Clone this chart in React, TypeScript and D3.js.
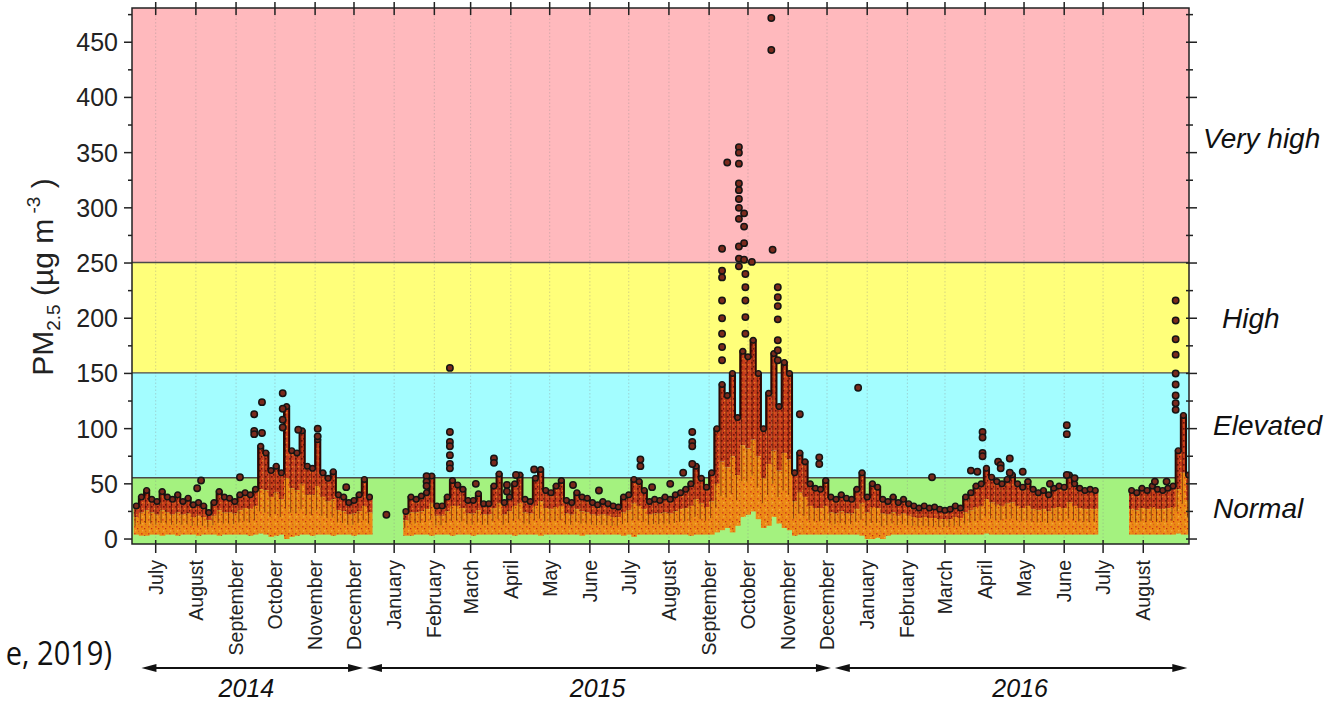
import * as d3 from "d3";

// PM2.5 time series in 4-day columns starting 2014-06-14
const COL_START = "2014-06-14";
const COL_DAYS = 4;

// upper envelope of the dense points (dark edge)
const peak: (number | null)[] = [
  30, 38, 44, 36, 34, 43, 38, 36, 40, 34,
  37, 31, 33, 30, 24, 33, 43, 38, 37, 34,
  40, 42, 40, 45, 84, 78, 62, 66, 60, 120,
  80, 78, 98, 66, 64, 90, 60, 55, 61, 40,
  38, 33, 35, 40, 54, 38, null, null, null, null,
  null, null, 25, 38, 36, 39, 42, 57, 30, 30,
  38, 53, 49, 45, 35, 35, 41, 32, 32, 48,
  59, 33, 38, 50, 58, 36, 34, 55, 63, 44,
  42, 48, 53, 35, 33, 42, 38, 37, 33, 31,
  34, 32, 30, 29, 38, 40, 54, 52, 44, 34,
  36, 35, 38, 36, 40, 42, 45, 50, 66, 55,
  47, 60, 100, 140, 130, 150, 110, 170, 165, 180,
  150, 100, 132, 168, 120, 160, 150, 60, 78, 70,
  50, 46, 45, 53, 38, 36, 40, 37, 36, 45,
  60, 38, 50, 47, 36, 34, 38, 33, 36, 32,
  30, 28, 30, 28, 29, 27, 26, 27, 30, 28,
  38, 42, 48, 50, 64, 56, 52, 50, 54, 58,
  50, 47, 52, 45, 42, 44, 40, 46, 48, 47,
  58, 50, 46, 44, 45, 44, null, null, null, null,
  null, null, 44, 42, 46, 44, 48, 45, 44, 46,
  48, 80, 112, 58,
];

// top of the orange (bulk) part
const mid: (number | null)[] = [
  20, 24, 26, 24, 22, 26, 24, 22, 24, 22,
  23, 20, 21, 20, 17, 21, 26, 24, 24, 23,
  26, 28, 27, 30, 45, 44, 38, 42, 36, 55,
  46, 44, 50, 40, 40, 48, 38, 34, 36, 26,
  25, 22, 23, 25, 30, 24, null, null, null, null,
  null, null, 17, 24, 24, 25, 27, 32, 21, 21,
  25, 30, 30, 28, 23, 23, 26, 22, 22, 28,
  32, 22, 25, 30, 32, 24, 23, 30, 34, 28,
  27, 29, 30, 23, 22, 27, 25, 24, 22, 21,
  22, 21, 20, 20, 24, 26, 32, 30, 27, 22,
  23, 23, 24, 23, 25, 27, 28, 30, 36, 32,
  29, 34, 50, 70, 65, 75, 58, 85, 82, 90,
  75, 55, 68, 80, 62, 78, 72, 34, 42, 38,
  30, 28, 28, 30, 24, 23, 25, 23, 23, 27,
  32, 24, 29, 28, 23, 22, 24, 21, 23, 21,
  20, 19, 20, 19, 19, 18, 18, 18, 20, 19,
  24, 26, 29, 30, 36, 33, 31, 30, 32, 33,
  30, 28, 30, 27, 26, 27, 25, 28, 29, 28,
  33, 30, 28, 27, 27, 27, null, null, null, null,
  null, null, 27, 26, 28, 27, 29, 27, 27, 28,
  29, 45, 60, 35,
];

// lower edge of the points
const low: (number | null)[] = [
  4, 3, 3, 4, 4, 3, 4, 4, 3, 4,
  4, 4, 3, 4, 4, 4, 3, 4, 4, 4,
  4, 4, 3, 4, 5, 4, 2, 3, 4, 0,
  2, 3, 4, 4, 3, 4, 4, 4, 3, 4,
  4, 4, 3, 4, 4, 4, null, null, null, null,
  null, null, 3, 3, 4, 4, 4, 3, 4, 4,
  4, 3, 4, 4, 4, 3, 4, 4, 4, 4,
  4, 4, 4, 3, 4, 4, 4, 4, 3, 4,
  4, 4, 4, 4, 4, 4, 3, 4, 4, 4,
  4, 4, 4, 4, 3, 4, 2, 4, 4, 4,
  4, 4, 4, 4, 4, 4, 4, 3, 4, 4,
  4, 4, 6, 8, 10, 6, 12, 20, 22, 25,
  18, 10, 12, 20, 14, 10, 8, 3, 4, 4,
  4, 4, 4, 4, 4, 4, 4, 4, 4, 4,
  3, 0, 0, 1, 0, 3, 4, 4, 4, 4,
  4, 4, 4, 4, 4, 4, 4, 4, 4, 4,
  4, 4, 4, 4, 5, 4, 4, 4, 4, 4,
  4, 4, 4, 4, 4, 4, 4, 4, 4, 4,
  4, 4, 4, 4, 4, 4, null, null, null, null,
  null, null, 4, 4, 4, 4, 4, 4, 4, 4,
  4, 5, 4, 4,
];

// isolated high readings (black circles)
const outlierDates = [
  "2014-08-02", "2014-08-05", "2014-09-04", "2014-09-15", "2014-09-21",
  "2014-10-07", "2014-10-19", "2014-11-03", "2014-11-25", "2014-12-26",
  "2015-01-26", "2015-02-13", "2015-03-05", "2015-03-19", "2015-03-29",
  "2015-04-05", "2015-04-19", "2015-05-19", "2015-06-08", "2015-07-10",
  "2015-07-19", "2015-08-02", "2015-08-12", "2015-08-19", "2015-09-11",
  "2015-09-15", "2015-09-24", "2015-09-28", "2015-09-29", "2015-10-04",
  "2015-10-19", "2015-10-20", "2015-10-24", "2015-11-10", "2015-11-25",
  "2015-12-25", "2016-02-20", "2016-03-21", "2016-03-26", "2016-03-30",
  "2016-04-11", "2016-04-13", "2016-04-20", "2016-04-30", "2016-05-21",
  "2016-06-03", "2016-06-09", "2016-08-10", "2016-08-19", "2016-08-26",
];
const outlierValues = [
  [46], [53], [56], [113, 98, 95], [124, 96],
  [132, 118, 108, 101], [99], [100, 93], [47], [22],
  [57, 52, 48], [155, 97, 88, 84, 76, 68, 64], [50], [73, 69], [49, 43],
  [58], [63], [49], [44], [72, 66],
  [47], [50], [60], [97, 88, 84, 68], [263, 243, 237, 216, 200, 186, 174, 162],
  [341], [355, 350, 340, 322, 316, 308, 300, 290, 265, 254, 247], [295, 283, 268, 253], [240, 228, 216, 201, 186], [251],
  [472, 443], [262], [228, 219, 211, 199, 180, 171, 162], [113], [74, 68],
  [137], [56], [62], [61], [97, 92, 78, 75],
  [70], [67, 64], [73, 60], [61], [50],
  [103, 95, 58], [55], [52], [52], [216, 198, 181, 167, 150, 140, 130, 123, 117],
];

// air quality bands
const bandNames = ["Normal", "Elevated", "High", "Very high"];
const bandEdges = [55.5, 150.5, 250.5];
const bandColors = ["#a4f27f", "#a3fdff", "#ffff7a", "#ffb9bd"];

const yTicks = [0, 50, 100, 150, 200, 250, 300, 350, 400, 450];

const years = ["2014", "2015", "2016"];
const yearStart = ["2014-06-20", "2014-12-11", "2015-12-07"];
const yearEnd = ["2014-12-08", "2015-12-04", "2016-09-04"];
const yearMid = ["2014-09-09", "2015-06-07", "2016-04-28"];

const parse = d3.utcParse("%Y-%m-%d");
const FONT = "'Liberation Sans', Arial, sans-serif";

export default function App() {
  const left = 132, right = 1189, top = 8, bottom = 544;
  const x = d3
    .scaleUtc()
    .domain([new Date(Date.UTC(2014, 5, 12, 17)), new Date(Date.UTC(2016, 8, 5, 7))])
    .range([left, right]);
  const y = d3.scaleLinear().domain([-4.5, 481]).range([bottom, top]);

  const months = d3.utcMonth.range(new Date(Date.UTC(2014, 6, 1)), new Date(Date.UTC(2016, 8, 1)));
  const fmt = d3.utcFormat("%B");

  const start = parse(COL_START)!;
  const cols = peak.map((p, i) => ({
    x0: x(d3.utcDay.offset(start, i * COL_DAYS)),
    x1: x(d3.utcDay.offset(start, (i + 1) * COL_DAYS)),
    peak: p,
    mid: mid[i],
    low: low[i],
  }));

  // dark upper edge as a step path
  let edge = "";
  let prev: number | null = null;
  cols.forEach((c) => {
    if (c.peak == null) {
      prev = null;
      return;
    }
    edge += prev == null ? `M${c.x0},${y(c.peak)}` : `V${y(c.peak)}`;
    edge += `H${c.x1}`;
    prev = c.peak;
  });

  const bandLo = [-4.5, ...bandEdges];
  const bandHi = [...bandEdges, 481];
  const bandLabelX = [1213, 1213, 1222, 1203];
  const bandLabelY = [518, 435, 328, 148];

  const minor = d3.range(0, 481, 25);

  return (
    <svg
      width={1334}
      height={701}
      style={{ position: "absolute", left: 0, top: 0, background: "#fff" }}
      fontFamily={FONT}
    >
      <defs>
        <pattern id="speckO" width={7} height={7} patternUnits="userSpaceOnUse">
          <rect width={7} height={7} fill="#ec8b15" />
          <rect x={1} y={1} width={1.6} height={1.6} fill="#d8461a" />
          <rect x={4} y={3} width={1.3} height={1.3} fill="#c42a12" />
          <rect x={2} y={5} width={1.4} height={1.4} fill="#f4a63e" />
          <rect x={5.2} y={5.8} width={1} height={1} fill="#d8461a" />
          <rect x={5.5} y={0.5} width={1} height={1.2} fill="#e06a18" />
        </pattern>
        <pattern id="speckR" width={6} height={6} patternUnits="userSpaceOnUse">
          <rect width={6} height={6} fill="#c73c1b" />
          <rect x={1} y={2} width={1.6} height={1.6} fill="#6e150a" />
          <rect x={4} y={4} width={1.3} height={1.3} fill="#e5821f" />
          <rect x={3} y={0.3} width={1.1} height={1.1} fill="#3c0a04" />
          <rect x={0.3} y={4.6} width={1} height={1} fill="#e5821f" />
        </pattern>
        <clipPath id="plot">
          <rect x={left} y={top} width={right - left} height={bottom - top} />
        </clipPath>
      </defs>

      {/* bands */}
      {bandNames.map((b, i) => (
        <rect
          key={b}
          x={left}
          y={y(bandHi[i])}
          width={right - left}
          height={y(bandLo[i]) - y(bandHi[i])}
          fill={bandColors[i]}
        />
      ))}

      {/* dotted month grid */}
      {months.map((m) => (
        <line
          key={+m}
          x1={x(m)}
          x2={x(m)}
          y1={top}
          y2={bottom}
          stroke="#8a8a8a"
          strokeOpacity={0.45}
          strokeWidth={0.8}
          strokeDasharray="1.5,2"
        />
      ))}

      {bandEdges.map((e) => (
        <line key={e} x1={left} x2={right} y1={y(e)} y2={y(e)} stroke="#4a4a4a" strokeWidth={1.3} />
      ))}

      <g clipPath="url(#plot)">
        {/* bulk */}
        {cols.map((c, i) =>
          c.peak == null ? null : (
            <g key={i}>
              <rect
                x={c.x0}
                y={y(c.peak)}
                width={c.x1 - c.x0 + 0.4}
                height={y(c.mid!) - y(c.peak)}
                fill="url(#speckR)"
              />
              <rect
                x={c.x0}
                y={y(c.mid!)}
                width={c.x1 - c.x0 + 0.4}
                height={y(c.low!) - y(c.mid!)}
                fill="url(#speckO)"
              />
              <line
                x1={c.x0 + 1.5}
                x2={c.x0 + 1.5}
                y1={y(c.peak)}
                y2={y((c.mid! + c.low!) / 2)}
                stroke="#3a0c06"
                strokeOpacity={0.55}
                strokeWidth={1}
              />
            </g>
          )
        )}
        <path d={edge} fill="none" stroke="#2a0804" strokeWidth={2} />
        {cols.map((c, i) =>
          c.peak == null ? null : (
            <circle
              key={"c" + i}
              cx={(c.x0 + c.x1) / 2}
              cy={y(c.peak)}
              r={2.8}
              fill="#7b2a1c"
              stroke="#151515"
              strokeWidth={1.4}
            />
          )
        )}
        {outlierDates.map((d, i) =>
          outlierValues[i].map((v, j) => (
            <circle
              key={d + j}
              cx={x(parse(d)!)}
              cy={y(v)}
              r={3.2}
              fill="#7b2a1c"
              stroke="#151515"
              strokeWidth={1.5}
            />
          ))
        )}
      </g>

      {/* frame */}
      <rect x={left} y={top} width={right - left} height={bottom - top} fill="none" stroke="#222" strokeWidth={1.5} />

      {/* month ticks top and bottom */}
      {months.map((m) => (
        <g key={"t" + +m}>
          <line x1={x(m)} x2={x(m)} y1={2} y2={15} stroke="#222" strokeWidth={1.5} />
          <line x1={x(m)} x2={x(m)} y1={540} y2={553} stroke="#222" strokeWidth={1.5} />
          <text
            transform={`translate(${x(m)},560) rotate(-90)`}
            textAnchor="end"
            dy="0.36em"
            fontSize={19.5}
            fill="#222"
          >
            {fmt(m)}
          </text>
        </g>
      ))}

      {/* y ticks */}
      {minor.map((v) => {
        const major = v % 50 === 0;
        return (
          <g key={"y" + v}>
            <line x1={major ? 124 : 128} x2={left} y1={y(v)} y2={y(v)} stroke="#222" strokeWidth={1.5} />
            <line x1={1186} x2={major ? 1197 : 1193} y1={y(v)} y2={y(v)} stroke="#222" strokeWidth={1.5} />
          </g>
        );
      })}
      {yTicks.map((v) => (
        <text key={"l" + v} x={118} y={y(v)} dy="0.36em" textAnchor="end" fontSize={25} fill="#222">
          {v}
        </text>
      ))}

      {/* y title */}
      <text transform="translate(53,277) rotate(-90)" textAnchor="middle" fontSize={30} fill="#222">
        PM
        <tspan fontSize={19} dy={7}>2.5</tspan>
        <tspan dy={-7}> (µg m</tspan>
        <tspan fontSize={19} dy={-13}> -3</tspan>
        <tspan dy={13}> )</tspan>
      </text>

      {/* band names */}
      {bandNames.map((b, i) => (
        <text key={"n" + b} x={bandLabelX[i]} y={bandLabelY[i]} fontSize={28} fontStyle="italic" fill="#111">
          {b}
        </text>
      ))}

      {/* year arrows */}
      {years.map((yr, i) => {
        const xa = x(parse(yearStart[i])!);
        const xb = x(parse(yearEnd[i])!);
        const ya = 668;
        return (
          <g key={yr}>
            <line x1={xa + 6} x2={xb - 6} y1={ya} y2={ya} stroke="#111" strokeWidth={2} />
            <polygon points={`${xa},${ya} ${xa + 15},${ya - 4} ${xa + 15},${ya + 4}`} fill="#111" />
            <polygon points={`${xb},${ya} ${xb - 15},${ya - 4} ${xb - 15},${ya + 4}`} fill="#111" />
            <text x={x(parse(yearMid[i])!)} y={697} textAnchor="middle" fontSize={25} fontStyle="italic" fill="#111">
              {yr}
            </text>
          </g>
        );
      })}

      {/* caption fragment from the source page */}
      <text
        transform="translate(112,665) scale(0.88,1)"
        textAnchor="end"
        fontSize={33}
        fontFamily="'Open Sans', sans-serif"
        fill="#111"
      >
        e, 2019)
      </text>
    </svg>
  );
}
